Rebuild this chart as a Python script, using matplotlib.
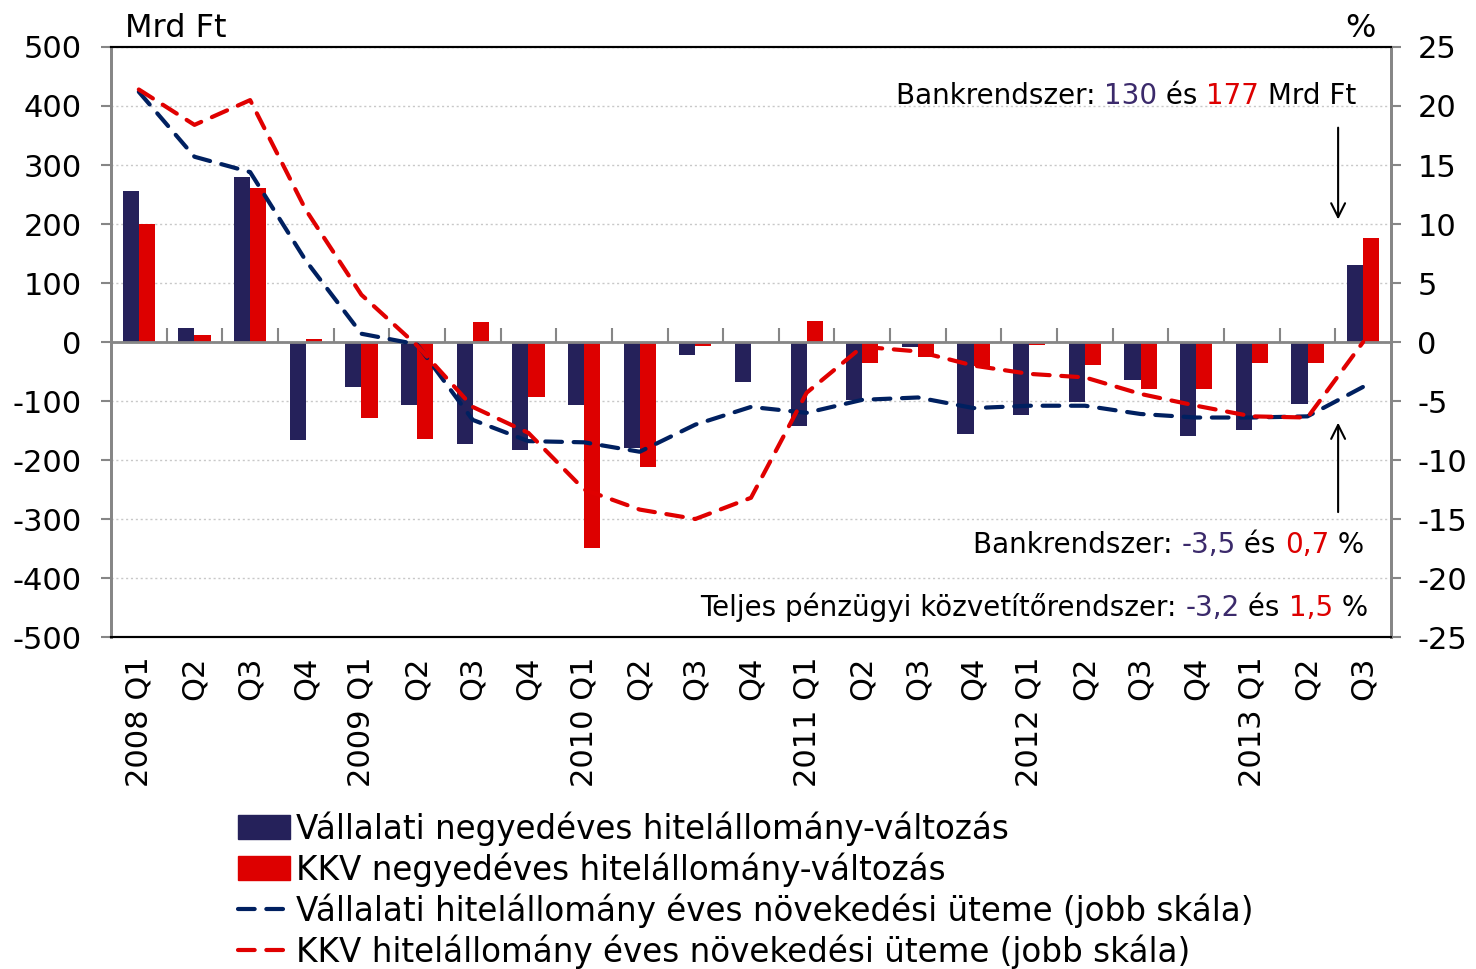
import numpy as np
import matplotlib
matplotlib.use("Agg")
import matplotlib.pyplot as plt
from matplotlib.patches import Patch
from matplotlib.lines import Line2D
from matplotlib.offsetbox import TextArea, HPacker, AnnotationBbox

# --- data ---
labels = ["2008 Q1", "Q2", "Q3", "Q4",
          "2009 Q1", "Q2", "Q3", "Q4",
          "2010 Q1", "Q2", "Q3", "Q4",
          "2011 Q1", "Q2", "Q3", "Q4",
          "2012 Q1", "Q2", "Q3", "Q4",
          "2013 Q1", "Q2", "Q3"]
vall_bar = [256, 24, 280, -166, -76, -107, -173, -183, -107, -180, -22, -68,
            -142, -98, -8, -156, -124, -102, -64, -159, -149, -105, 130]
kkv_bar = [200, 12, 261, 5, -129, -164, 34, -93, -349, -212, -7, 0,
           36, -36, -25, -41, -5, -39, -80, -80, -36, -36, 177]
vall_line = [21.2, 15.7, 14.4, 6.9, 0.7, -0.2, -6.6, -8.4, -8.5, -9.3, -7.0, -5.5,
             -6.0, -4.9, -4.7, -5.6, -5.4, -5.4, -6.1, -6.4, -6.4, -6.3, -3.8]
kkv_line = [21.4, 18.4, 20.5, 11.2, 4.0, -0.3, -5.5, -7.7, -12.5, -14.2, -15.0, -13.2,
            -4.3, -0.4, -0.8, -2.0, -2.7, -3.0, -4.4, -5.4, -6.3, -6.4, 0.0]

NAVY_BAR = "#25215a"
RED_BAR = "#dd0000"
NAVY_LINE = "#002060"
RED_LINE = "#e00000"
NAVY_TXT = "#3b2a6b"
GRAY = "#868686"
FS_TICK = 22
FS_NOTE = 20
FS_LEG = 23.5
DASH = (0, (4, 2.8))

plt.rcParams['font.family'] = ['DejaVu Sans']
plt.rcParams['axes.unicode_minus'] = False

fig = plt.figure(figsize=(14.76, 9.69), dpi=100)
ax = fig.add_axes([0.0752, 0.3426, 0.8672, 0.6089])
ax2 = ax.twinx()

x = np.arange(len(labels))
w = 0.29
ax.bar(x - w/2, vall_bar, w, color=NAVY_BAR, zorder=2)
ax.bar(x + w/2, kkv_bar, w, color=RED_BAR, zorder=2)

ax.set_xlim(-0.5, len(labels) - 0.5)
ax.set_ylim(-500, 500)
ax.set_yticks(np.arange(-500, 501, 100))
ax.grid(axis='y', color='#c8c8c8', linestyle=(0, (1.5, 2)), linewidth=1, zorder=0)
ax.axhline(0, color=GRAY, linewidth=2, zorder=3)

ax.set_xticks(x)
ax.set_xticklabels(labels, rotation=90, fontsize=FS_TICK, va='top')
ax.tick_params(axis='x', length=0, pad=14)
ax.tick_params(axis='y', labelsize=FS_TICK, color=GRAY, length=7, width=1.5, pad=14)

# tick marks on zero line between categories
sec = ax.secondary_xaxis(0.5)
sec.set_xticks(x[:-1] + 0.5)
sec.set_xticklabels([])
sec.tick_params(axis='x', direction='out', length=10, width=1.5, color=GRAY)
sec.spines['bottom'].set_visible(False)

ax2.plot(x, vall_line, color=NAVY_LINE, linewidth=3, linestyle=DASH,
         dash_capstyle='round', zorder=4)
ax2.plot(x, kkv_line, color=RED_LINE, linewidth=3, linestyle=DASH,
         dash_capstyle='round', zorder=4)
ax2.set_ylim(-25, 25)
ax2.set_yticks(np.arange(-25, 26, 5))
ax2.tick_params(axis='y', labelsize=FS_TICK, color=GRAY, length=7, width=1.5, pad=12)

for a in (ax, ax2):
    a.spines['left'].set_color(GRAY)
    a.spines['right'].set_color(GRAY)
    a.spines['left'].set_linewidth(2)
    a.spines['right'].set_linewidth(2)
    a.spines['top'].set_color('black')
    a.spines['bottom'].set_color('black')
    a.spines['top'].set_linewidth(1.5)
    a.spines['bottom'].set_linewidth(1.5)

ax.text(0.011, 1.032, "Mrd Ft", transform=ax.transAxes, fontsize=23, va='center', ha='left')
ax.text(0.976, 1.032, "%", transform=ax.transAxes, fontsize=23, va='center', ha='center')


def colored_text(parts, xy):
    boxes = [TextArea(t, textprops=dict(color=c, fontsize=FS_NOTE)) for t, c in parts]
    pack = HPacker(children=boxes, align='baseline', pad=0, sep=0)
    ab = AnnotationBbox(pack, xy, xycoords='axes fraction', box_alignment=(1, 0.5),
                        frameon=False, pad=0)
    ax.add_artist(ab)


colored_text([("Bankrendszer: ", "black"), ("130", NAVY_TXT), (" és ", "black"),
              ("177", RED_BAR), (" Mrd Ft", "black")], (0.973, 0.917))
colored_text([("Bankrendszer: ", "black"), ("-3,5", NAVY_TXT), (" és ", "black"),
              ("0,7", RED_BAR), (" %", "black")], (0.979, 0.156))
colored_text([("Teljes pénzügyi közvetítőrendszer: ", "black"), ("-3,2", NAVY_TXT),
              (" és ", "black"), ("1,5", RED_BAR), (" %", "black")], (0.982, 0.051))

ax.annotate("", xy=(21.55, 203), xytext=(21.55, 368),
            arrowprops=dict(arrowstyle='->', color='black', lw=1.5, mutation_scale=25), zorder=5)
ax.annotate("", xy=(21.55, -132), xytext=(21.55, -293),
            arrowprops=dict(arrowstyle='->', color='black', lw=1.5, mutation_scale=25), zorder=5)

handles = [Patch(color=NAVY_BAR), Patch(color=RED_BAR),
           Line2D([], [], color=NAVY_LINE, linewidth=3, linestyle=DASH, dash_capstyle='round'),
           Line2D([], [], color=RED_LINE, linewidth=3, linestyle=DASH, dash_capstyle='round')]
names = ["Vállalati negyedéves hitelállomány-változás",
         "KKV negyedéves hitelállomány-változás",
         "Vállalati hitelállomány éves növekedési üteme (jobb skála)",
         "KKV hitelállomány éves növekedési üteme (jobb skála)"]
fig.legend(handles, names, loc='upper left', bbox_to_anchor=(0.161, 0.163),
           frameon=False, fontsize=FS_LEG, handlelength=1.6, handleheight=0.75,
           handletextpad=0.2, labelspacing=0.2, borderaxespad=0, borderpad=0)

fig.savefig("out.png", dpi=100)
